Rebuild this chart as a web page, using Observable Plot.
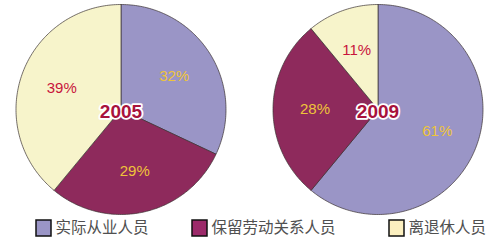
<!DOCTYPE html>
<html><head><meta charset="utf-8">
<script src="https://cdn.jsdelivr.net/npm/d3@7"></script>
<script src="https://cdn.jsdelivr.net/npm/@observablehq/plot@0.6"></script>
<style>body{margin:0;background:#fff;}svg{display:block;}</style>
</head><body><div id="chart"></div>
<script>
const categories = ["实际从业人员", "保留劳动关系人员", "离退休人员"];
const years = ["2005", "2009"];
const values2005 = [32, 29, 39];
const values2009 = [61, 28, 11];
const colors = ["#9a95c6", "#8e2a5c", "#f7f4cb"];
const legendColors = ["#9a95c6", "#9c2a6a", "#fbefbf"];
const labelColors = ["#eec43a", "#eec43a", "#c8143c"];

const W = 497, H = 242;
const centers = [[120.5, 109], [377.5, 109]];
const R = 105;
const labelFrac = 0.6;
const series = [values2005, values2009];

const slicePts = [];
const labels = [];
const yearLabels = [];
series.forEach((vals, yi) => {
  const [cx, cy] = centers[yi];
  const total = d3.sum(vals);
  let acc = 0;
  vals.forEach((v, ci) => {
    const a0 = acc / total * 2 * Math.PI;
    acc += v;
    const a1 = acc / total * 2 * Math.PI;
    const key = yi + "-" + ci;
    slicePts.push({key, cat: ci, x: cx, y: cy});
    const n = Math.max(2, Math.ceil((a1 - a0) / (Math.PI / 180)));
    for (let i = 0; i <= n; i++) {
      const a = a0 + (a1 - a0) * i / n;
      slicePts.push({key, cat: ci, x: cx + R * Math.sin(a), y: cy - R * Math.cos(a)});
    }
    slicePts.push({key, cat: ci, x: cx, y: cy});
    const am = (a0 + a1) / 2;
    labels.push({text: v + "%", cat: ci, x: cx + R * labelFrac * Math.sin(am), y: cy - R * labelFrac * Math.cos(am)});
  });
  yearLabels.push({text: years[yi], x: cx, y: cy + 2});
});

const legendX = [36, 192, 389];
const legend = categories.map((c, i) => ({name: c, cat: i, x: legendX[i], y: 228}));

const plot = Plot.plot({
  width: W, height: H,
  margin: 0,
  x: {domain: [0, W], range: [0, W], axis: null},
  y: {domain: [0, H], range: [0, H], axis: null},
  style: {background: "#fff"},
  marks: [
    Plot.line(slicePts, {x: "x", y: "y", z: "key", fill: d => colors[d.cat], stroke: "#3a3030", strokeWidth: 0.7, curve: "linear"}),
    Plot.text(labels, {x: "x", y: "y", text: "text", fill: d => labelColors[d.cat], fontSize: 15, fontFamily: "Liberation Sans, Arial, sans-serif"}),
    Plot.text(yearLabels, {x: "x", y: "y", text: "text", fill: "#a8123c", stroke: "white", strokeWidth: 3.5, paintOrder: "stroke", fontSize: 19, fontWeight: "bold", fontFamily: "Liberation Sans, Arial, sans-serif"}),
    Plot.rect(legend, {x1: "x", x2: d => d.x + 15, y1: d => d.y - 8, y2: d => d.y + 8, fill: d => legendColors[d.cat], stroke: "#111", strokeWidth: 1.5}),
    Plot.text(legend, {x: d => d.x + 19, y: "y", text: "name", textAnchor: "start", fill: "#505050", fontSize: 15.5, fontFamily: "Noto Sans CJK SC, sans-serif"})
  ]
});
document.getElementById("chart").appendChild(plot);
</script>
</body></html>
